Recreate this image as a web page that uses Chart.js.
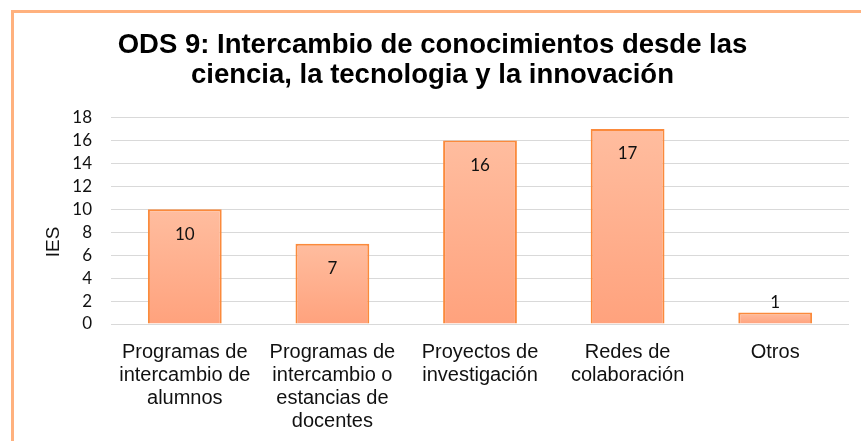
<!DOCTYPE html>
<html>
<head>
<meta charset="utf-8">
<script src="https://cdn.jsdelivr.net/npm/chart.js@4.4.1/dist/chart.umd.min.js"></script>
<style>
  html, body { margin: 0; padding: 0; background: #fff; }
  #wrap { position: relative; width: 861px; height: 441px; overflow: hidden; }
  #frame {
    position: absolute; left: 11px; top: 10px; width: 900px; height: 500px;
    border-left: 3px solid #ffb17e; border-top: 3px solid #ffb17e;
    pointer-events: none;
  }
</style>
</head>
<body>
<div id="wrap">
  <canvas id="chart" width="861" height="441"></canvas>
  <div id="frame"></div>
</div>
<script>
"use strict";

// Data
var categories = [
  ["Programas de", "intercambio de", "alumnos"],
  ["Programas de", "intercambio o", "estancias de", "docentes"],
  ["Proyectos de", "investigación"],
  ["Redes de", "colaboración"],
  ["Otros"]
];
var iesCounts = [10, 7, 16, 17, 1];
var titleLines = [
  "ODS 9: Intercambio de conocimientos desde las",
  "ciencia, la tecnologia y la innovación"
];
var yAxisTitle = "IES";

// Main colours
var barBorder = "#fb8a3c";
var barTop = "#ffbd9f";
var barBottom = "#ffa27d";

function barGradient(context) {
  var chart = context.chart;
  var yScale = chart.scales.y;
  if (!chart.chartArea || !yScale) {
    return barBottom;
  }
  var top = yScale.getPixelForValue(context.raw);
  var bottom = yScale.getPixelForValue(0);
  if (!isFinite(top) || top === bottom) {
    return barBottom;
  }
  var g = chart.ctx.createLinearGradient(0, top, 0, bottom);
  g.addColorStop(0, barTop);
  g.addColorStop(1, barBottom);
  return g;
}

var valueLabels = {
  id: "valueLabels",
  afterDatasetsDraw: function(chart) {
    var ctx = chart.ctx;
    var meta = chart.getDatasetMeta(0);
    ctx.save();
    ctx.font = "17px Lato";
    ctx.fillStyle = "#111";
    ctx.textAlign = "center";
    ctx.textBaseline = "middle";
    meta.data.forEach(function(bar, i) {
      var h = bar.base - bar.y;
      var y = h > 35 ? bar.y + 25 : bar.y - 10;
      ctx.fillText(String(iesCounts[i]), bar.x, y);
    });
    ctx.restore();
  }
};

new Chart(document.getElementById("chart"), {
  type: "bar",
  data: {
    labels: categories,
    datasets: [{
      label: yAxisTitle,
      data: iesCounts,
      backgroundColor: barGradient,
      borderColor: barBorder,
      borderWidth: 2,
      borderSkipped: "bottom",
      categoryPercentage: 0.5,
      barPercentage: 1
    }]
  },
  plugins: [valueLabels],
  options: {
    responsive: false,
    animation: false,
    layout: {
      padding: { left: 16, right: 12, top: 0, bottom: 0 }
    },
    plugins: {
      legend: { display: false },
      tooltip: { enabled: false },
      title: {
        display: true,
        text: titleLines,
        color: "#000",
        font: { family: "Liberation Sans", size: 27.5, weight: "bold", lineHeight: 1.1 },
        padding: { top: 30, bottom: 27 }
      }
    },
    scales: {
      x: {
        afterFit: function(scale) {
          scale.height = 117;
        },
        grid: { display: false },
        border: { display: false },
        ticks: {
          color: "#111",
          padding: 9,
          maxRotation: 0,
          autoSkip: false,
          font: { family: "Liberation Sans", size: 20, lineHeight: 1.15 }
        }
      },
      y: {
        min: 0,
        max: 18,
        afterFit: function(scale) {
          scale.width = 95;
        },
        grid: {
          color: "#d9d9d9",
          lineWidth: 1,
          drawTicks: false
        },
        border: { display: false },
        ticks: {
          stepSize: 2,
          autoSkip: false,
          color: "#111",
          padding: 19,
          font: { family: "Lato", size: 17 }
        },
        title: {
          display: true,
          // trailing spaces push the rotated word down, as in the original
          text: yAxisTitle + "        ",
          color: "#111",
          padding: { top: 26, bottom: 0 },
          font: { family: "Liberation Sans", size: 19 }
        }
      }
    }
  }
});
</script>
</body>
</html>
